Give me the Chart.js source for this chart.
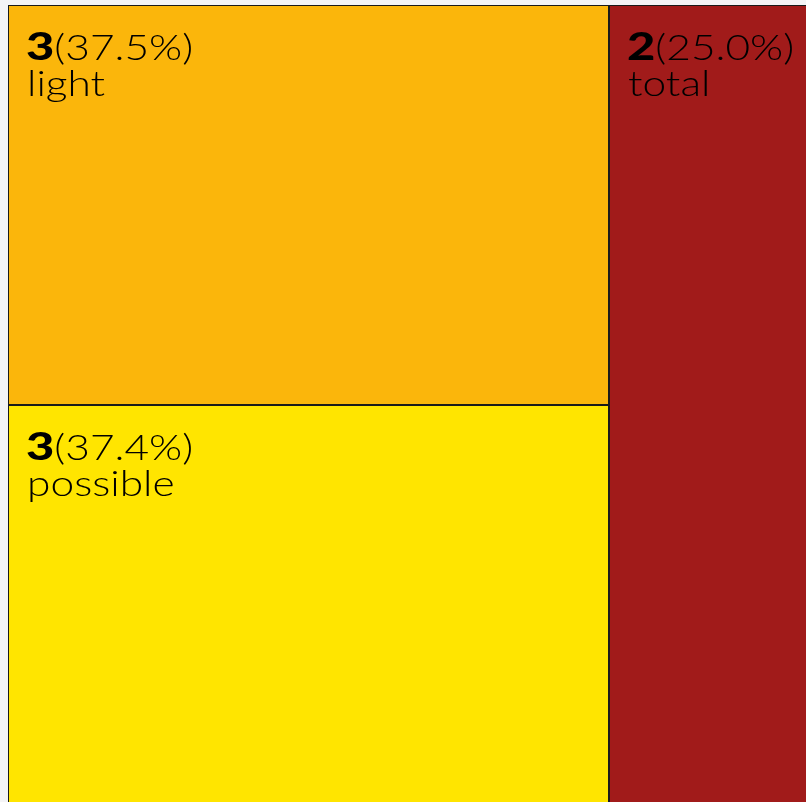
<!DOCTYPE html>
<html>
<head>
<meta charset="utf-8">
<script src="https://cdn.jsdelivr.net/npm/chart.js@4.4.0/dist/chart.umd.min.js"></script>
<style>
  html, body { margin: 0; padding: 0; width: 806px; height: 802px; overflow: hidden; background: #f4f4f6; }
  #wrap { position: absolute; left: 8px; top: 5px; width: 802px; height: 798px; }
</style>
</head>
<body>
<div id="wrap"><canvas id="treeChart"></canvas></div>
<script>
"use strict";

// data
let categories = ["light", "possible", "total"];
let counts = [3, 3, 2];
let shares = [37.5, 37.4, 25.0];
let cellColors = ["#fbb60b", "#ffe500", "#a11b1a"];

// no Montserrat here, so stretch Lato a bit to get close to its width
let textFont = "Lato, 'Open Sans', sans-serif";
let stretch = 1.18;

function worstRatio(row, side) {
  let sum = 0, max = -Infinity, min = Infinity;
  for (let i = 0; i < row.length; i++) {
    sum += row[i].area;
    max = Math.max(max, row[i].area);
    min = Math.min(min, row[i].area);
  }
  return Math.max((side * side * max) / (sum * sum), (sum * sum) / (side * side * min));
}

// squarified layout, units are whatever w/h are in
function squarify(items, x, y, w, h, out) {
  if (!items.length) return;
  let rest = items.slice();
  let row = [];
  let side = Math.min(w, h);
  while (rest.length) {
    let cand = row.concat([rest[0]]);
    if (row.length && worstRatio(cand, side) > worstRatio(row, side)) break;
    row = cand;
    rest.shift();
  }
  let sum = row.reduce((a, r) => a + r.area, 0);
  if (w >= h) {
    let cw = sum / h;
    let cy = y;
    row.forEach((r) => {
      let rh = r.area / cw;
      out.push({ i: r.i, x: x, y: cy, w: cw, h: rh });
      cy += rh;
    });
    squarify(rest, x + cw, y, w - cw, h, out);
  } else {
    let rh = sum / w;
    let cx = x;
    row.forEach((r) => {
      let rw = r.area / rh;
      out.push({ i: r.i, x: cx, y: y, w: rw, h: rh });
      cx += rw;
    });
    squarify(rest, x, y + rh, w, h - rh, out);
  }
}

function stretchedText(ctx, txt, x, y, sx) {
  ctx.save();
  ctx.translate(x, y);
  ctx.scale(sx, 1);
  ctx.fillText(txt, 0, 0);
  ctx.restore();
  return ctx.measureText(txt).width * sx;
}

let treemapPlugin = {
  id: "treemapCells",
  afterDatasetsDraw(chart) {
    let ctx = chart.ctx;
    let area = chart.chartArea;
    let xs = chart.scales.x;
    let ys = chart.scales.y;
    let W = area.right - area.left;
    let H = area.bottom - area.top;
    let total = shares.reduce((a, b) => a + b, 0);

    let items = shares
      .map((s, i) => ({ i: i, area: (s / total) * W * H }))
      .sort((a, b) => b.area - a.area);
    let cells = [];
    squarify(items, 0, 0, W, H, cells);

    ctx.save();
    cells.forEach((c) => {
      // back to value space (0..1) then through the scales
      let x0 = xs.getPixelForValue(c.x / W);
      let x1 = xs.getPixelForValue((c.x + c.w) / W);
      let y0 = ys.getPixelForValue(c.y / H);
      let y1 = ys.getPixelForValue((c.y + c.h) / H);
      let left = Math.round(x0), top = Math.round(y0);
      let right = Math.round(x1), bottom = Math.round(y1);

      ctx.fillStyle = cellColors[c.i];
      ctx.fillRect(left, top, right - left, bottom - top);
      ctx.strokeStyle = "#1a1a1a";
      ctx.lineWidth = 1;
      ctx.strokeRect(left + 0.5, top + 0.5, right - left - 1, bottom - top - 1);

      let tx = left + 18;
      ctx.fillStyle = "#000";
      ctx.textBaseline = "alphabetic";
      ctx.textAlign = "left";
      ctx.font = "900 37px " + textFont;
      let nw = stretchedText(ctx, String(counts[c.i]), tx, top + 55, 1.32);
      ctx.font = "300 36px " + textFont;
      stretchedText(ctx, "(" + shares[c.i].toFixed(1) + "%)", tx + nw, top + 55, stretch);
      stretchedText(ctx, categories[c.i], tx + 1, top + 91, stretch);
    });
    ctx.restore();
  },
};

let ctxEl = document.getElementById("treeChart").getContext("2d");
let treeChart = new Chart(ctxEl, {
  type: "scatter",
  data: {
    datasets: [{ data: [], pointRadius: 0 }],
  },
  options: {
    responsive: true,
    maintainAspectRatio: false,
    animation: false,
    layout: { padding: 0 },
    plugins: { legend: { display: false }, tooltip: { enabled: false } },
    scales: {
      x: { type: "linear", min: 0, max: 1, display: false },
      y: { type: "linear", min: 0, max: 1, reverse: true, display: false },
    },
  },
  plugins: [treemapPlugin],
});
</script>
</body>
</html>
